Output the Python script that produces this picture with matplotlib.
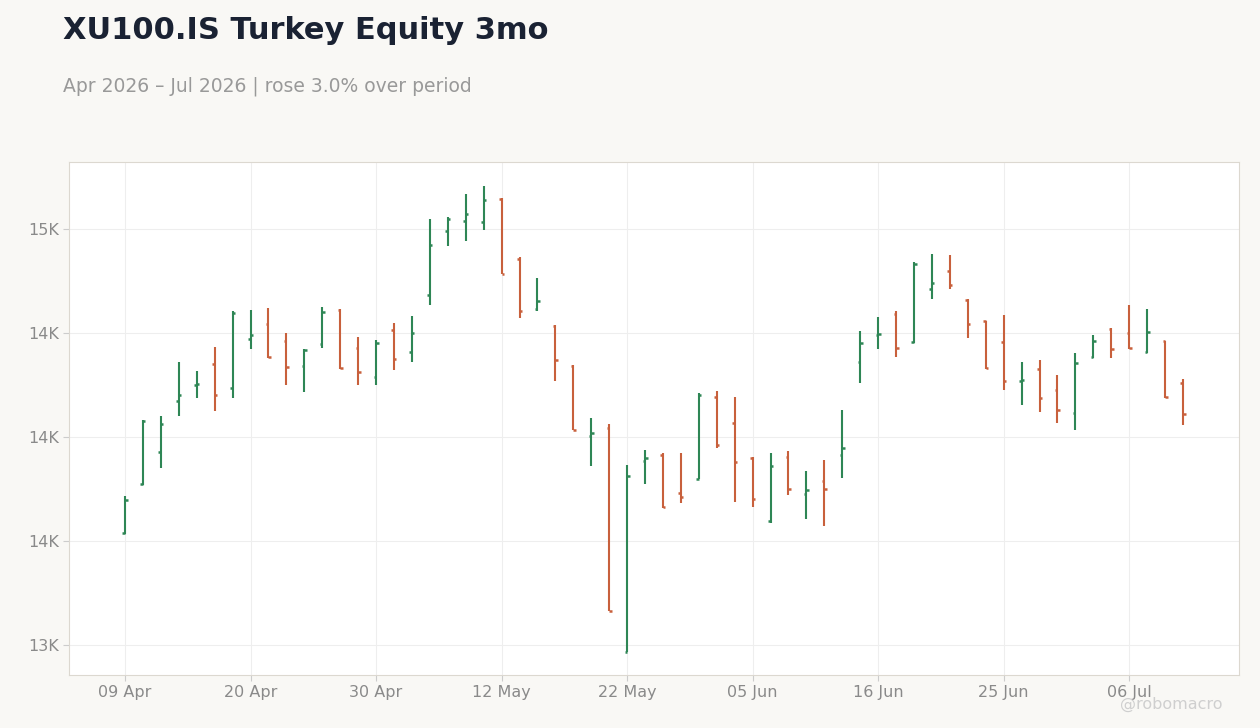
import matplotlib
matplotlib.use("Agg")
import matplotlib.pyplot as plt
from matplotlib.ticker import FuncFormatter, FixedLocator

plt.rcParams['font.family'] = ['DejaVu Sans']

opens = [13538,13774,13928,14173,14250,14351,14236,14471,14543,14462,14341,14447,14611,14428,14289,14515,14409,
         14683,14991,15039,15034,15144,14856,14615,14534,14341,14005,14043,12966,13885,13914,13731,13798,14192,
         14067,13899,13596,13904,13726,13789,13914,14361,14490,14591,14457,14712,14798,14659,14558,14457,14269,
         14327,14226,14115,14385,14519,14500,14409,14462,14260]
highs = [13716,14082,14101,14361,14317,14433,14606,14611,14620,14500,14423,14625,14615,14481,14466,14548,14582,
         15048,15058,15168,15207,15149,14865,14765,14539,14346,14091,14063,13865,13938,13923,13923,14212,14221,
         14192,13904,13923,13933,13837,13889,14130,14510,14577,14606,14841,14880,14875,14664,14558,14587,14361,
         14370,14298,14404,14490,14524,14635,14615,14462,14279]
lows = [13534,13769,13851,14101,14188,14125,14188,14423,14380,14250,14216,14428,14327,14250,14250,14322,14361,
        14635,14918,14942,14995,14784,14572,14606,14269,14034,13861,13163,12966,13774,13659,13683,13798,13947,
        13688,13663,13587,13721,13606,13572,13803,14260,14423,14385,14452,14664,14712,14476,14327,14226,14154,
        14120,14067,14034,14380,14380,14423,14404,14188,14058]
closes = [13697,14077,14063,14202,14255,14202,14596,14490,14385,14337,14418,14601,14332,14313,14452,14375,14500,
          14923,15048,15072,15140,14784,14606,14654,14370,14034,14019,13163,13813,13899,13663,13712,14202,13962,
          13880,13702,13861,13750,13745,13750,13947,14452,14495,14428,14832,14740,14731,14543,14332,14269,14274,
          14188,14130,14356,14462,14423,14428,14505,14192,14111]
tick_pos = [0, 7, 14, 21, 28, 35, 42, 49, 56]
tick_labels = ["09 Apr", "20 Apr", "30 Apr", "12 May", "22 May", "05 Jun", "16 Jun", "25 Jun", "06 Jul"]

BG = "#f9f8f5"
UP, DOWN = "#2e8655", "#c8603c"

fig = plt.figure(figsize=(12.6, 7.28), dpi=100, facecolor=BG)
ax = fig.add_axes([0.0548, 0.0728, 0.9282, 0.7047])
ax.set_facecolor("white")
x = list(range(len(opens)))
cols = [UP if c >= o else DOWN for o, c in zip(opens, closes)]
ax.vlines(x, lows, highs, colors=cols, linewidth=1.5, zorder=3)
ax.hlines(opens, [i - 0.14 for i in x], x, colors=cols, linewidth=1.8, zorder=3)
ax.hlines(closes, x, [i + 0.14 for i in x], colors=cols, linewidth=1.8, zorder=3)

ax.set_xlim(-3.12, 62.1)
ax.set_ylim(12856, 15322)
ax.yaxis.set_major_locator(FixedLocator([13000, 13500, 14000, 14500, 15000]))
ax.yaxis.set_major_formatter(FuncFormatter(lambda v, p: f"{v/1000:.0f}K"))
ax.set_xticks(tick_pos)
ax.set_xticklabels(tick_labels)
ax.grid(True, color="#eeeeee", linewidth=0.8, zorder=0)
ax.tick_params(colors="#8a8a8a", labelsize=11.5, length=4, color="#cccccc")
for s in ax.spines.values():
    s.set_color("#dcd8d0")

fig.text(0.05, 0.958, "XU100.IS Turkey Equity 3mo", fontsize=22, fontweight="bold", color="#1a2233", va="center")
fig.text(0.05, 0.882, "Apr 2026 – Jul 2026 | rose 3.0% over period", fontsize=13.5, color="#999999", va="center")
fig.text(0.97, 0.032, "@robomacro", fontsize=11.5, color="#cfcfcf", ha="right", va="center")
fig.savefig("out.png", dpi=100, facecolor=BG)
